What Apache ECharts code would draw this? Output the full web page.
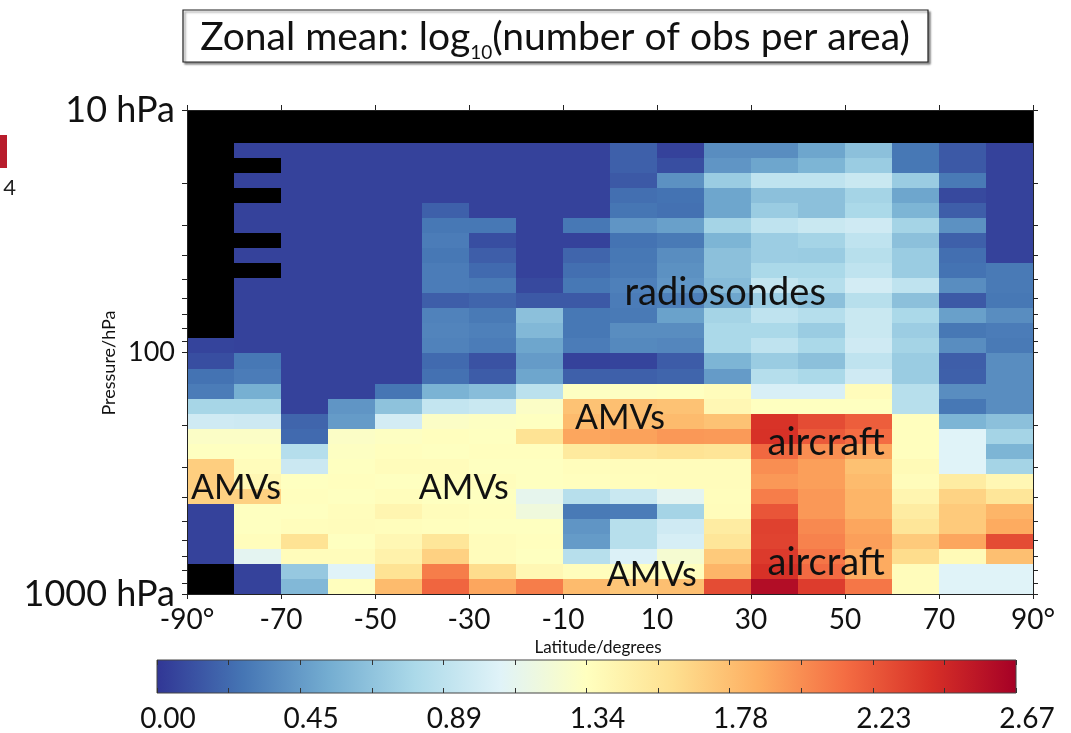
<!DOCTYPE html>
<html>
<head>
<meta charset="utf-8">
<script src="https://cdn.jsdelivr.net/npm/echarts@6/dist/echarts.min.js"></script>
<style>
  html, body { margin: 0; padding: 0; background: #fff; }
  #chart { width: 1071px; height: 733px; }
</style>
</head>
<body>
<div id="chart"></div>
<script>
// Latitude band edges (degrees) and pressure level edges (hPa, top to bottom)
const latEdges = [-90, -80, -70, -60, -50, -40, -30, -20, -10, 0, 10, 20, 30, 40, 50, 60, 70, 80, 90];
const pressureEdges = [10, 13.69, 15.80, 18.23, 21.03, 24.26, 27.99, 32.30, 37.27, 43.00, 49.61, 57.24,
  66.05, 76.21, 87.93, 101.4, 117.0, 135.1, 155.8, 179.8, 207.5, 239.4, 276.2, 318.7, 367.7, 424.2,
  489.5, 564.8, 651.6, 751.9, 867.5, 1000];

// log10(number of obs per area) per latitude band, one value per pressure layer (top to bottom); null = no data
const band90S80S = [null, null, null, null, null, null, null, null, null, null, null, null, null, null,
  0.06, 0.1, 0.26, 0.3, 0.78, 0.98, 1.3, 1.33, 1.7, 1.7, 1.68, 0.05, 0.05, 0.05, 0.05, null, null];
const band80S70S = [null, 0.05, null, 0.05, null, 0.05, 0.05, null, 0.05, null, 0.05, 0.05, 0.05, 0.05, 0.05,
  0.28, 0.3, 0.55, 0.78, 0.97, 1.3, 1.33, 1.36, 1.4, 1.68, 1.33, 1.33, 1.35, 1.1, 0.05, 0.05];
const band70S60S = [null, 0.05, 0.05, 0.05, 0.05, 0.05, 0.05, 0.05, 0.05, 0.05, 0.05, 0.05, 0.05, 0.05, 0.05,
  0.05, 0.05, 0.05, 0.05, 0.2, 0.22, 0.85, 0.96, 1.33, 1.34, 1.33, 1.35, 1.58, 1.36, 0.7, 0.6];
const band60S50S = [null, 0.05, 0.05, 0.05, 0.05, 0.05, 0.05, 0.05, 0.05, 0.05, 0.05, 0.05, 0.05, 0.05, 0.05,
  0.05, 0.05, 0.05, 0.42, 0.45, 1.3, 1.32, 1.33, 1.34, 1.33, 1.35, 1.36, 1.33, 1.36, 1.07, 1.34];
const band50S40S = [null, 0.05, 0.05, 0.05, 0.05, 0.05, 0.05, 0.05, 0.05, 0.05, 0.05, 0.05, 0.05, 0.05, 0.05,
  0.05, 0.05, 0.27, 0.66, 1.0, 1.32, 1.34, 1.36, 1.33, 1.35, 1.42, 1.35, 1.4, 1.45, 1.58, 1.8];
const band40S30S = [null, 0.05, 0.05, 0.05, 0.05, 0.18, 0.28, 0.3, 0.28, 0.3, 0.3, 0.17, 0.33, 0.34, 0.33,
  0.22, 0.25, 0.57, 0.92, 1.3, 1.34, 1.33, 1.36, 1.35, 1.33, 1.36, 1.34, 1.55, 1.68, 2.07, 2.17];
const band30S20S = [null, 0.05, 0.05, 0.05, 0.05, 0.05, 0.28, 0.1, 0.17, 0.22, 0.29, 0.2, 0.29, 0.32, 0.3,
  0.12, 0.16, 0.63, 0.95, 1.32, 1.33, 1.34, 1.33, 1.35, 1.33, 1.34, 1.33, 1.36, 1.36, 1.62, 1.9];
const band20S10S = [null, 0.05, 0.05, 0.05, 0.05, 0.05, 0.05, 0.05, 0.05, 0.05, 0.08, 0.15, 0.65, 0.6, 0.5,
  0.45, 0.5, 0.88, 1.3, 1.33, 1.58, 1.34, 1.33, 1.33, 1.12, 1.2, 1.33, 1.34, 1.33, 1.4, 2.07];
const band10S0 = [null, 0.05, 0.05, 0.05, 0.05, 0.05, 0.28, 0.05, 0.2, 0.24, 0.28, 0.15, 0.28, 0.28, 0.3,
  0.05, 0.18, 1.32, 1.76, 1.8, 1.9, 1.52, 1.35, 1.34, 0.86, 0.29, 0.42, 0.45, 0.86, 1.35, 1.8];
const band0N10N = [null, 0.18, 0.18, 0.15, 0.24, 0.27, 0.42, 0.26, 0.28, 0.29, 0.32, 0.3, 0.29, 0.38, 0.36,
  0.06, 0.18, 1.32, 1.78, 1.8, 1.92, 1.55, 1.36, 1.35, 0.95, 0.3, 0.86, 0.86, 1.05, 1.34, 1.74];
const band10N20N = [null, 0.05, 0.1, 0.4, 0.26, 0.25, 0.47, 0.29, 0.38, 0.4, 0.42, 0.32, 0.48, 0.38, 0.35,
  0.16, 0.2, 1.33, 1.76, 1.8, 1.96, 1.58, 1.36, 1.36, 1.1, 0.77, 0.98, 1.02, 1.25, 1.34, 1.78];
const band20N30N = [null, 0.38, 0.42, 0.72, 0.5, 0.5, 0.77, 0.58, 0.65, 0.65, 0.62, 0.5, 0.77, 0.8, 0.8,
  0.58, 0.45, 1.36, 1.4, 1.76, 1.95, 1.56, 1.36, 1.36, 1.35, 1.36, 1.5, 1.55, 1.72, 1.83, 2.28];
const band30N40N = [null, 0.38, 0.5, 0.9, 0.65, 0.72, 0.9, 0.73, 0.73, 0.8, 0.92, 0.73, 0.9, 0.8, 0.9,
  0.72, 0.85, 1.03, 1.33, 2.39, 2.4, 2.16, 2.0, 1.96, 2.07, 2.24, 2.33, 2.32, 2.36, 2.4, 2.6];
const band40N50N = [null, 0.5, 0.58, 0.9, 0.65, 0.65, 0.95, 0.77, 0.72, 0.8, 0.85, 0.65, 0.85, 0.72, 0.8,
  0.65, 0.8, 1.03, 1.33, 2.28, 2.22, 2.0, 1.93, 1.93, 1.96, 1.96, 2.02, 2.05, 2.1, 2.15, 2.35];
const band50N60N = [null, 0.65, 0.72, 0.95, 0.77, 0.8, 0.98, 0.9, 0.86, 0.9, 1.0, 0.86, 0.95, 0.95, 0.98,
  0.9, 0.98, 1.36, 1.33, 2.2, 2.14, 1.9, 1.77, 1.8, 1.83, 1.83, 1.9, 1.93, 1.88, 1.88, 2.1];
const band60N70N = [null, 0.28, 0.28, 0.72, 0.5, 0.58, 0.77, 0.65, 0.72, 0.72, 0.9, 0.65, 0.8, 0.73, 0.77,
  0.72, 0.72, 0.86, 0.86, 1.34, 1.34, 1.34, 1.38, 1.36, 1.42, 1.5, 1.55, 1.72, 1.62, 1.36, 1.36];
const band70N80N = [null, 0.15, 0.15, 0.29, 0.08, 0.17, 0.4, 0.18, 0.24, 0.26, 0.38, 0.15, 0.47, 0.28, 0.38,
  0.17, 0.18, 0.38, 0.28, 0.58, 1.07, 1.07, 1.07, 1.5, 1.67, 1.72, 1.72, 1.9, 1.38, 1.07, 1.07];
const band80N90N = [null, 0.05, 0.05, 0.05, 0.05, 0.05, 0.05, 0.05, 0.05, 0.29, 0.29, 0.28, 0.38, 0.3, 0.29,
  0.38, 0.38, 0.38, 0.38, 0.65, 0.77, 0.58, 0.77, 1.4, 1.55, 1.83, 1.88, 2.28, 1.78, 1.07, 1.07];

const bands = [band90S80S, band80S70S, band70S60S, band60S50S, band50S40S, band40S30S, band30S20S,
  band20S10S, band10S0, band0N10N, band10N20N, band20N30N, band30N40N, band40N50N, band50N60N,
  band60N70N, band70N80N, band80N90N];

// Colour scale
const palette = ['#313695', '#4575b4', '#74add1', '#abd9e9', '#e0f3f8', '#ffffbf',
  '#fee090', '#fdae61', '#f46d43', '#d73027', '#a50026'];
const valueMin = 0;
const valueMax = 2.67;
const colorbarLabelValues = [0, 0.445, 0.89, 1.335, 1.78, 2.225, 2.67];
const colorbarLabels = ['0.00', '0.45', '0.89', '1.34', '1.78', '2.23', '2.67'];
const colorbarTickValues = [0, 0.2225, 0.445, 0.6675, 0.89, 1.1125, 1.335, 1.5575, 1.78, 2.0025, 2.225, 2.4475, 2.67];

// Axis ticks and labels
const latTickValues = [-90, -70, -50, -30, -10, 10, 30, 50, 70, 90];
const latTickLabels = ['-90°', '-70', '-50', '-30', '-10', '10', '30', '50', '70', '90°'];
const pressureTickValues = [10, 20, 30, 40, 50, 60, 70, 80, 90, 100, 200, 300, 400, 500, 600, 700, 800, 900, 1000];
const pressureLabelValues = [10, 100, 1000];
const pressureLabels = ['10 hPa', '100', '1000 hPa'];

// Observing-system annotations placed at latitude / pressure positions
const annotationTexts = ['radiosondes', 'AMVs', 'aircraft', 'AMVs', 'AMVs', 'aircraft', 'AMVs'];
const annotationLats = [24.5, 2.1, 46.0, -79.6, -31.1, 46.0, 8.9];
const annotationPressures = [57, 187, 238, 365, 365, 745, 834];

const FONT = 'Lato, "Open Sans", "DejaVu Sans", sans-serif';

// Build cell records: [latMin, latMax, pTop, pBottom, value]
const cells = [];
const gaps = [];
bands.forEach(function (col, i) {
  col.forEach(function (v, j) {
    const rec = [latEdges[i], latEdges[i + 1], pressureEdges[j], pressureEdges[j + 1]];
    if (v === null) { gaps.push(rec); } else { cells.push(rec.concat([v])); }
  });
});
const annotations = annotationTexts.map(function (t, i) {
  return [annotationLats[i], annotationPressures[i]];
});

function cellRect(api) {
  const a = api.coord([api.value(0), api.value(2)]);
  const b = api.coord([api.value(1), api.value(3)]);
  const x0 = Math.round(Math.min(a[0], b[0]));
  const x1 = Math.round(Math.max(a[0], b[0]));
  const y0 = Math.round(Math.min(a[1], b[1]));
  const y1 = Math.round(Math.max(a[1], b[1]));
  return { x: x0, y: y0, width: x1 - x0, height: y1 - y0 };
}

function nearestIndex(list, v) {
  let best = 0;
  list.forEach(function (x, i) { if (Math.abs(x - v) < Math.abs(list[best] - v)) best = i; });
  return best;
}

const axisLineStyle = { color: '#222', width: 1 };

const chart = echarts.init(document.getElementById('chart'));
chart.setOption({
  animation: false,
  backgroundColor: '#ffffff',
  grid: [
    { left: 187, top: 110, width: 846, height: 484 },
    { left: 157, top: 660, width: 859, height: 34 }
  ],
  xAxis: [
    {
      type: 'value', gridIndex: 0, min: -90, max: 90, position: 'bottom', z: 10,
      axisLine: { show: true, onZero: false, lineStyle: axisLineStyle },
      axisTick: { show: true, inside: false, length: 5, customValues: latTickValues, lineStyle: axisLineStyle },
      axisLabel: {
        show: true, customValues: latTickValues, margin: 12,
        fontSize: 28, fontFamily: FONT, color: '#111',
        formatter: function (v) { return latTickLabels[nearestIndex(latTickValues, v)]; }
      },
      splitLine: { show: false },
      name: 'Latitude/degrees', nameLocation: 'middle', nameGap: 45, nameMoveOverlap: false,
      nameTextStyle: { fontSize: 17, fontFamily: FONT, color: '#111', padding: [0, 24, 0, 0] }
    },
    {
      type: 'value', gridIndex: 0, min: -90, max: 90, position: 'top', z: 10,
      axisLine: { show: true, onZero: false, lineStyle: axisLineStyle },
      axisTick: { show: true, inside: false, length: 5, customValues: latTickValues, lineStyle: axisLineStyle },
      axisLabel: { show: false },
      splitLine: { show: false }
    },
    {
      type: 'value', gridIndex: 1, min: valueMin, max: valueMax, position: 'bottom', z: 10,
      axisLine: { show: false },
      axisTick: { show: true, inside: true, length: 5, customValues: colorbarTickValues, lineStyle: { color: '#333' } },
      axisLabel: {
        show: true, customValues: colorbarLabelValues, margin: 12, padding: [0, 0, 0, 22],
        fontSize: 28, fontFamily: FONT, color: '#111',
        formatter: function (v) { return colorbarLabels[nearestIndex(colorbarLabelValues, v)]; }
      },
      splitLine: { show: false }
    },
    {
      type: 'value', gridIndex: 1, min: valueMin, max: valueMax, position: 'top', z: 10,
      axisLine: { show: false },
      axisTick: { show: true, inside: true, length: 5, customValues: colorbarTickValues, lineStyle: { color: '#333' } },
      axisLabel: { show: false },
      splitLine: { show: false }
    }
  ],
  yAxis: [
    {
      type: 'log', logBase: 10, gridIndex: 0, min: 10, max: 1000, inverse: true, position: 'left', z: 10,
      axisLine: { show: true, onZero: false, lineStyle: axisLineStyle },
      axisTick: { show: true, inside: false, length: 5, customValues: pressureTickValues, lineStyle: axisLineStyle },
      axisLabel: {
        show: true, customValues: pressureLabelValues, margin: 12,
        formatter: function (v) {
          const t = pressureLabels[nearestIndex(pressureLabelValues, v)];
          return t.indexOf('hPa') >= 0 ? '{big|' + t + '}' : '{mid|' + t + '}';
        },
        rich: {
          big: { fontSize: 36, fontFamily: FONT, color: '#111' },
          mid: { fontSize: 27, fontFamily: FONT, color: '#111' }
        }
      },
      splitLine: { show: false },
      name: 'Pressure/hPa', nameLocation: 'middle', nameRotate: 90, nameGap: 69, nameMoveOverlap: false,
      nameTextStyle: { fontSize: 18, fontFamily: FONT, color: '#111', padding: [0, 22, 0, 0] }
    },
    {
      type: 'log', logBase: 10, gridIndex: 0, min: 10, max: 1000, inverse: true, position: 'right', z: 10,
      axisLine: { show: true, onZero: false, lineStyle: axisLineStyle },
      axisTick: { show: true, inside: false, length: 5, customValues: pressureTickValues, lineStyle: axisLineStyle },
      axisLabel: { show: false },
      splitLine: { show: false }
    },
    { type: 'value', gridIndex: 1, min: 0, max: 1, show: false }
  ],
  visualMap: {
    type: 'continuous', show: false, min: valueMin, max: valueMax, dimension: 4, seriesIndex: 0,
    inRange: { color: palette }
  },
  series: [
    {
      name: 'obs density', type: 'custom', xAxisIndex: 0, yAxisIndex: 0,
      encode: { x: [0, 1], y: [2, 3] },
      renderItem: function (params, api) {
        return { type: 'rect', shape: cellRect(api), style: { fill: api.visual('color') } };
      },
      data: cells
    },
    {
      name: 'no data', type: 'custom', xAxisIndex: 0, yAxisIndex: 0,
      encode: { x: [0, 1], y: [2, 3] },
      renderItem: function (params, api) {
        return { type: 'rect', shape: cellRect(api), style: { fill: '#000000' } };
      },
      data: gaps
    },
    {
      name: 'labels', type: 'custom', xAxisIndex: 0, yAxisIndex: 0, z: 20,
      encode: { x: 0, y: 1 },
      renderItem: function (params, api) {
        const p = api.coord([api.value(0), api.value(1)]);
        const t = annotationTexts[params.dataIndex];
        return {
          type: 'text', x: p[0], y: p[1],
          style: {
            text: t, fill: '#111',
            fontSize: t === 'AMVs' ? 34 : 38, fontFamily: FONT,
            align: 'center', verticalAlign: 'middle',
            textAlign: 'center', textVerticalAlign: 'middle'
          }
        };
      },
      data: annotations
    },
    {
      name: 'colour bar', type: 'custom', xAxisIndex: 2, yAxisIndex: 2,
      encode: { x: [0, 1] },
      renderItem: function (params, api) {
        const a = api.coord([api.value(0), 1]);
        const b = api.coord([api.value(1), 0]);
        const stops = palette.map(function (c, i) { return { offset: i / (palette.length - 1), color: c }; });
        return {
          type: 'rect',
          shape: { x: a[0], y: a[1], width: b[0] - a[0], height: b[1] - a[1] },
          style: { fill: new echarts.graphic.LinearGradient(0, 0, 1, 0, stops), stroke: '#444', lineWidth: 1 }
        };
      },
      data: [[valueMin, valueMax]]
    }
  ],
  graphic: [
    {
      type: 'rect', x: 183, y: 10, z: 1,
      shape: { width: 745, height: 52 },
      style: { fill: '#fff', stroke: '#222', lineWidth: 1.2, shadowColor: 'rgba(0,0,0,0.45)', shadowOffsetX: 2, shadowOffsetY: 2, shadowBlur: 2 }
    },
    {
      type: 'text', x: 555, y: 37, z: 2,
      style: {
        text: '{m|Zonal mean: log}{s|10}{m|(number of obs per area)}',
        align: 'center', verticalAlign: 'middle', textAlign: 'center', textVerticalAlign: 'middle',
        rich: {
          m: { fontSize: 39, fontFamily: FONT, fill: '#111', color: '#111', lineHeight: 50 },
          s: { fontSize: 19, fontFamily: FONT, fill: '#111', color: '#111', lineHeight: 19, verticalAlign: 'bottom' }
        }
      }
    },
    { type: 'rect', x: 0, y: 135, shape: { width: 7, height: 33 }, style: { fill: '#b81c2c' } },
    {
      type: 'text', x: 16, y: 188,
      style: { text: '4', fontSize: 22, fontFamily: FONT, fill: '#222', align: 'right', verticalAlign: 'middle', textAlign: 'right', textVerticalAlign: 'middle' }
    }
  ]
});
</script>
</body>
</html>
